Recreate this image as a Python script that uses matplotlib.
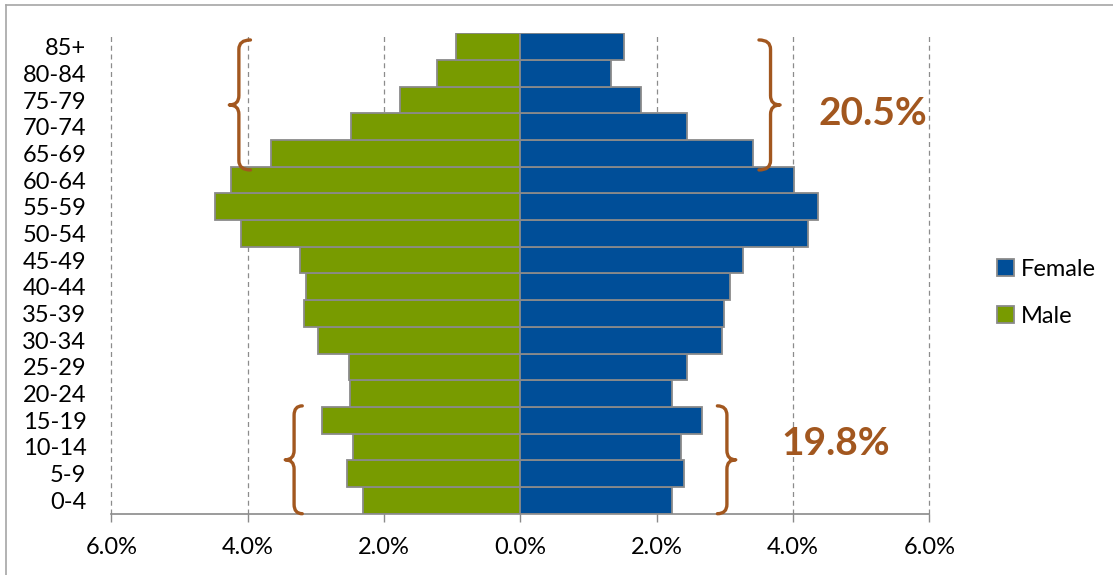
import matplotlib
matplotlib.use("Agg")
import matplotlib.pyplot as plt
from matplotlib.path import Path
from matplotlib.patches import PathPatch, Patch
from matplotlib.lines import Line2D
from matplotlib.ticker import FuncFormatter

# ---- data ----
age_groups = ["0-4", "5-9", "10-14", "15-19", "20-24", "25-29", "30-34", "35-39",
              "40-44", "45-49", "50-54", "55-59", "60-64", "65-69", "70-74",
              "75-79", "80-84", "85+"]
male = [2.31, 2.54, 2.46, 2.91, 2.50, 2.51, 2.97, 3.17, 3.14, 3.24, 4.10,
        4.48, 4.25, 3.66, 2.48, 1.77, 1.23, 0.94]
female = [2.23, 2.40, 2.36, 2.67, 2.22, 2.44, 2.96, 2.98, 3.08, 3.26, 4.22,
          4.37, 4.01, 3.41, 2.44, 1.77, 1.33, 1.52]
x_ticks = [-6, -4, -2, 0, 2, 4, 6]
old_share_label = "20.5%"
young_share_label = "19.8%"

GREEN = "#789B00"
BLUE = "#004E98"
EDGE = "#8A8A8A"
BROWN = "#A2571F"

plt.rcParams["font.family"] = ["Lato", "DejaVu Sans"]

fig = plt.figure(figsize=(11.13, 5.75), dpi=100)
ax = fig.add_axes([0.1001, 0.1066, 0.7349, 0.8355])

ypos = list(range(len(age_groups)))
ax.barh(ypos, [-m for m in male], height=1.0, color=GREEN, edgecolor=EDGE,
        linewidth=1.3, zorder=3, label="Male")
ax.barh(ypos, female, height=1.0, color=BLUE, edgecolor=EDGE,
        linewidth=1.3, zorder=3, label="Female")

ax.set_xlim(-6, 6)
ax.set_ylim(-0.5, len(age_groups) - 0.5)
ax.set_xticks(x_ticks)
ax.xaxis.set_major_formatter(FuncFormatter(lambda v, p: f"{abs(v):.1f}%"))
ax.set_yticks(ypos)
ax.set_yticklabels(age_groups)

ax.xaxis.grid(True, linestyle=(0, (4, 3)), color="#8C8C8C", linewidth=0.9, zorder=0)
ax.set_axisbelow(True)
for gl in ax.get_xgridlines():
    gl.set_clip_on(False)

for s in ["top", "right", "left"]:
    ax.spines[s].set_visible(False)
ax.spines["bottom"].set_color(EDGE)
ax.spines["bottom"].set_linewidth(1.2)
ax.spines["bottom"].set_zorder(4)

ax.tick_params(axis="x", colors=EDGE, length=6, width=1.0, pad=11,
               labelsize=17, labelcolor="black")
ax.tick_params(axis="y", length=0, pad=18, labelsize=17, labelcolor="black")


def brace(x_end, x_spine, x_tip, y0, y1, c=0.35):
    ym = (y0 + y1) / 2.0
    verts = [
        (x_end, y1),
        (x_spine, y1), (x_spine, y1 - c),
        (x_spine, ym + c),
        (x_spine, ym), (x_tip, ym),
        (x_spine, ym), (x_spine, ym - c),
        (x_spine, y0 + c),
        (x_spine, y0), (x_end, y0),
    ]
    codes = [Path.MOVETO,
             Path.CURVE3, Path.CURVE3,
             Path.LINETO,
             Path.CURVE3, Path.CURVE3,
             Path.CURVE3, Path.CURVE3,
             Path.LINETO,
             Path.CURVE3, Path.CURVE3]
    patch = PathPatch(Path(verts, codes), fill=False, edgecolor=BROWN,
                      linewidth=2.4, capstyle="round", joinstyle="round",
                      zorder=5, clip_on=False)
    ax.add_patch(patch)


# top braces (65+)
brace(-3.96, -4.13, -4.27, 12.38, 17.25)
brace(3.50, 3.67, 3.81, 12.38, 17.25)
# bottom braces (under 20)
brace(-3.20, -3.32, -3.45, -0.50, 3.54)
brace(2.89, 3.03, 3.16, -0.50, 3.54)

ax.text(5.17, 14.49, old_share_label, color=BROWN, fontsize=28,
        fontweight="bold", ha="center", va="center", zorder=6)
ax.text(4.63, 2.12, young_share_label, color=BROWN, fontsize=28,
        fontweight="bold", ha="center", va="center", zorder=6)

handles = [Patch(facecolor=BLUE, edgecolor=EDGE, linewidth=1.3),
           Patch(facecolor=GREEN, edgecolor=EDGE, linewidth=1.3)]
fig.legend(handles, ["Female", "Male"], loc="center left",
           bbox_to_anchor=(997 / 1113, 1 - 293 / 575), frameon=False,
           fontsize=17, handlelength=0.7, handleheight=0.7,
           handletextpad=0.3, labelspacing=1.1, borderaxespad=0, borderpad=0)

# chart border (left and top edges visible)
fig.add_artist(Line2D([6.4 / 1113, 6.4 / 1113], [0, 1 - 4.7 / 575],
                      transform=fig.transFigure, color="#A6A6A6", linewidth=1.2))
fig.add_artist(Line2D([6.4 / 1113, 1], [1 - 4.7 / 575, 1 - 4.7 / 575],
                      transform=fig.transFigure, color="#A6A6A6", linewidth=1.2))

fig.savefig("out.png", dpi=100, facecolor="white")
